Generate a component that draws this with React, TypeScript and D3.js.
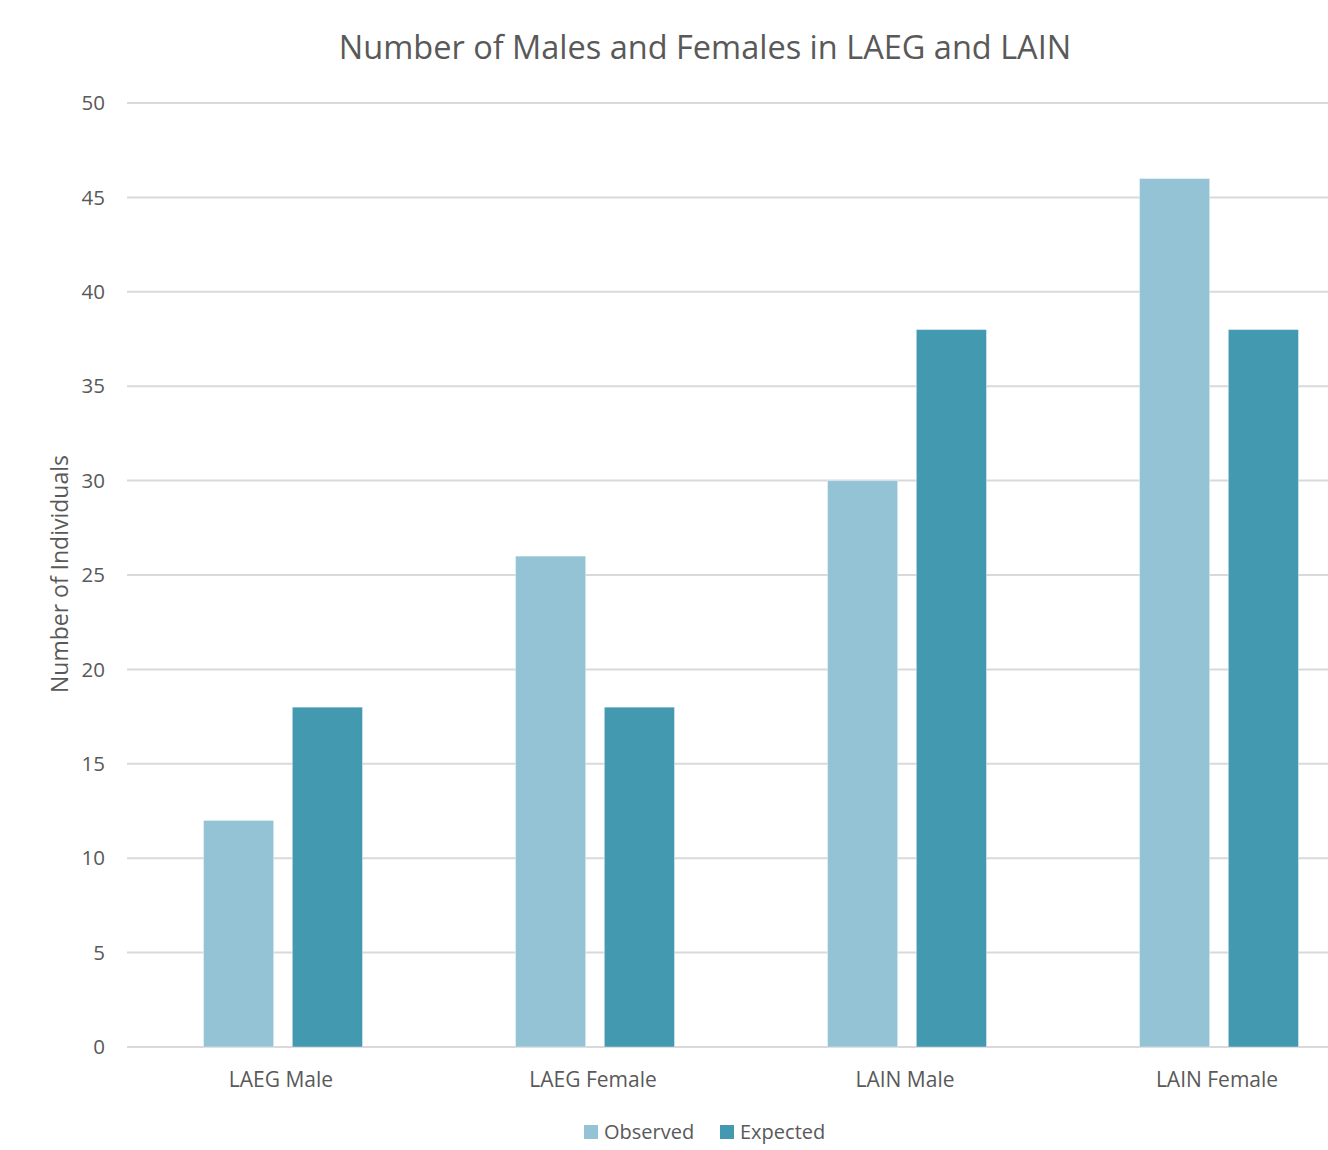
import { useEffect, useRef } from "react";
import * as d3 from "d3";

const categories = ["LAEG Male", "LAEG Female", "LAIN Male", "LAIN Female"];
const seriesNames = ["Observed", "Expected"];
const observed = [12, 26, 30, 46];
const expected = [18, 18, 38, 38];
const yTicks = [0, 5, 10, 15, 20, 25, 30, 35, 40, 45, 50];

const colors: Record<string, string> = {
  Observed: "#93C3D4",
  Expected: "#4399B0",
};

const width = 1328;
const height = 1150;
const margin = { top: 103, right: -47, bottom: 103, left: 127 };

const App: React.FC = () => {
  const svgRef = useRef<SVGSVGElement>(null);

  useEffect(() => {
    document.body.style.margin = "0";
    if (!svgRef.current) return;
    const svg = d3.select(svgRef.current);
    svg.selectAll("*").remove();

    const font = "'Open Sans', sans-serif";
    const textColor = "#595959";

    const x0 = d3
      .scaleBand()
      .domain(categories)
      .range([margin.left, width - margin.right]);

    const x1 = d3
      .scaleBand()
      .domain(seriesNames)
      .range([(x0.bandwidth() - 159) / 2, (x0.bandwidth() + 159) / 2])
      .paddingInner(0.21);

    const y = d3
      .scaleLinear()
      .domain([0, 50])
      .range([height - margin.bottom, margin.top]);

    // gridlines
    svg
      .selectAll(".grid")
      .data(yTicks)
      .enter()
      .append("line")
      .attr("x1", margin.left)
      .attr("x2", width)
      .attr("y1", (d) => y(d))
      .attr("y2", (d) => y(d))
      .attr("stroke", "#d9d9d9")
      .attr("stroke-width", 2);

    // tick labels
    svg
      .selectAll(".ytick")
      .data(yTicks)
      .enter()
      .append("text")
      .attr("x", 105)
      .attr("y", (d) => y(d))
      .attr("dy", "0.35em")
      .attr("text-anchor", "end")
      .attr("fill", textColor)
      .attr("font-family", font)
      .attr("font-size", 20.5)
      .text((d) => d);

    const rows = categories.map((c, i) => ({
      cat: c,
      values: [
        { key: "Observed", value: observed[i] },
        { key: "Expected", value: expected[i] },
      ],
    }));

    const groups = svg
      .selectAll(".group")
      .data(rows)
      .enter()
      .append("g")
      .attr("transform", (d) => `translate(${x0(d.cat)},0)`);

    groups
      .selectAll("rect")
      .data((d) => d.values)
      .enter()
      .append("rect")
      .attr("x", (d) => x1(d.key)!)
      .attr("y", (d) => y(d.value))
      .attr("width", x1.bandwidth())
      .attr("height", (d) => y(0) - y(d.value))
      .attr("fill", (d) => colors[d.key])
      .attr("stroke", "#ffffff")
      .attr("stroke-opacity", 0.4)
      .attr("stroke-width", 1);

    // category labels
    svg
      .selectAll(".xlab")
      .data(categories)
      .enter()
      .append("text")
      .attr("x", (d) => x0(d)! + x0.bandwidth() / 2 - 2)
      .attr("y", 1087)
      .attr("text-anchor", "middle")
      .attr("fill", textColor)
      .attr("font-family", font)
      .attr("font-size", 21)
      .text((d) => d);

    // title
    svg
      .append("text")
      .attr("x", 705)
      .attr("y", 59)
      .attr("text-anchor", "middle")
      .attr("fill", textColor)
      .attr("font-family", font)
      .attr("font-size", 32.5)
      .text("Number of Males and Females in LAEG and LAIN");

    // y axis title
    svg
      .append("text")
      .attr("transform", `translate(68,574) rotate(-90)`)
      .attr("text-anchor", "middle")
      .attr("fill", textColor)
      .attr("font-family", font)
      .attr("font-size", 23)
      .text("Number of Individuals");

    // legend
    const legendX = [584, 720];
    const legend = svg
      .selectAll(".legend")
      .data(seriesNames)
      .enter()
      .append("g")
      .attr("transform", (d, i) => `translate(${legendX[i]},1125)`);

    legend
      .append("rect")
      .attr("width", 14)
      .attr("height", 14)
      .attr("fill", (d) => colors[d]);

    legend
      .append("text")
      .attr("x", 20)
      .attr("y", 7)
      .attr("dy", "0.35em")
      .attr("fill", textColor)
      .attr("font-family", font)
      .attr("font-size", 20)
      .text((d) => d);
  }, []);

  return (
    <svg
      ref={svgRef}
      width={width}
      height={height}
      style={{ display: "block", background: "#ffffff" }}
    />
  );
};

export default App;
